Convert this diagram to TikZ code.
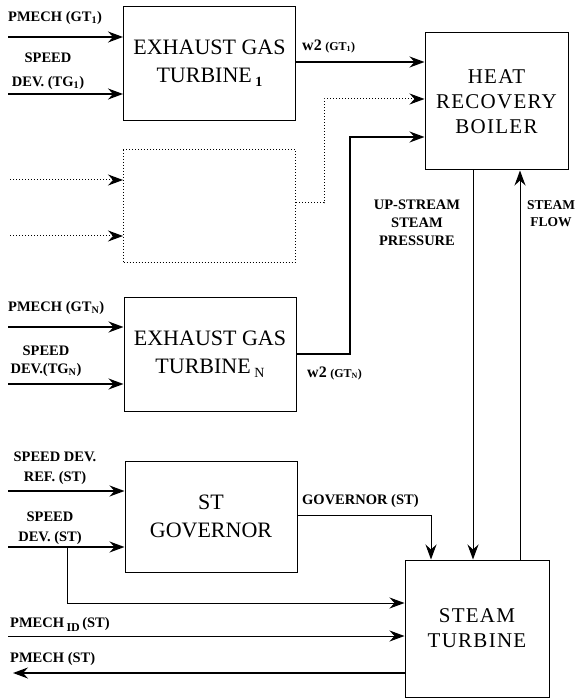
\documentclass[tikz,border=0pt]{standalone}
\usepackage{fontspec}
\setmainfont{Liberation Serif}
\usetikzlibrary{arrows.meta}

\begin{document}
\begin{tikzpicture}[x=1pt,y=-1pt,
    blk/.style={draw,line width=1pt,minimum width=172pt,minimum height=114pt,
      align=center,font=\fontsize{22}{28}\selectfont},
    wide/.style={font=\fontsize{21}{25}\selectfont\addfontfeature{LetterSpace=6}},
    lbl/.style={font=\fontsize{14.5}{18}\selectfont\bfseries,inner sep=0pt,align=center},
    sig/.style={line width=1.6pt,-{Stealth[length=15pt,width=11pt,inset=5pt]}},
    fb/.style={line width=1pt,-{Stealth[length=15pt,width=11pt,inset=5pt]}},
    dotsig/.style={line width=1pt,dotted,-{Stealth[length=15pt,width=11pt,inset=5pt]}}]
  \useasboundingbox (0,0) rectangle (579,700);

  % blocks
  \node[blk] (gt1) at (209.5,63.5) {EXHAUST GAS\\TURBINE\,\raisebox{-4pt}{\fontsize{14}{14}\selectfont\bfseries 1}};
  \node[blk,dotted,minimum height=112pt] (gtx) at (209.5,206) {};
  \node[blk] (gtn) at (210,354) {EXHAUST GAS\\TURBINE\,\raisebox{-4pt}{\fontsize{14}{14}\selectfont N}};
  \node[blk,minimum height=111pt] (gov) at (211,516.5) {ST\\GOVERNOR};
  \node[blk,wide,minimum width=143pt,minimum height=137pt] (hrb) at (496.5,101.5) {HEAT\\RECOVERY\\BOILER};
  \node[blk,wide,minimum width=144pt,minimum height=137pt] (st) at (477,628.5) {STEAM\\TURBINE};

  % free ends
  \coordinate (a1) at (8,37);
  \coordinate (a2) at (8,94);
  \coordinate (d1) at (10,180);
  \coordinate (d2) at (10,236);
  \coordinate (n1) at (8,327);
  \coordinate (n2) at (8,384);
  \coordinate (s1) at (8,491);
  \coordinate (s2) at (8,547);
  \coordinate (br) at (67,547);
  \coordinate (bk) at (67,603);
  \coordinate (p1) at (8,636);
  \coordinate (p2) at (13,673);

  % labels
  \node[lbl,anchor=west] (l1) at (8,18) {PMECH (GT\textsubscript{1})};
  \node[lbl] (l2) at (48,71) {SPEED\\[6pt]DEV. (TG\textsubscript{1})};
  \node[lbl,anchor=west] (l3) at (8,308) {PMECH (GT\textsubscript{N})};
  \node[lbl] (l4) at (46,361) {SPEED\\DEV.(TG\textsubscript{N})};
  \node[lbl] (l5) at (55,468) {SPEED DEV.\\[2pt]REF. (ST)};
  \node[lbl] (l6) at (50,528) {SPEED\\[2pt]DEV. (ST)};
  \node[lbl,anchor=west] (l7) at (10,624) {PMECH\,\raisebox{-4pt}{\fontsize{12}{12}\selectfont ID}\,(ST)};
  \node[lbl,anchor=west] (l8) at (10,659) {PMECH (ST)};
  \node[lbl,anchor=west] (l9) at (302,46) {{\fontsize{16}{16}\selectfont w2} {\fontsize{12}{12}\selectfont(GT\textsubscript{1})}};
  \node[lbl,anchor=west] (l10) at (307,373) {{\fontsize{16}{16}\selectfont w2} {\fontsize{12}{12}\selectfont(GT\textsubscript{N})}};
  \node[lbl] (l11) at (417,223) {UP-STREAM\\STEAM\\PRESSURE};
  \node[lbl,font=\fontsize{13.5}{17}\selectfont\bfseries] (l12) at (551,214) {STEAM\\FLOW};
  \node[lbl,anchor=west] (l13) at (302,501) {GOVERNOR (ST)};

  % connectors
  \draw[sig] (a1) -- (a1 -| gt1.west);
  \draw[sig] (a2) -- (a2 -| gt1.west);
  \draw[dotsig] (d1) -- (d1 -| gtx.west);
  \draw[dotsig] (d2) -- (d2 -| gtx.west);
  \draw[sig] (n1) -- (n1 -| gtn.west);
  \draw[sig] (n2) -- (n2 -| gtn.west);
  \draw[sig] (s1) -- (s1 -| gov.west);
  \draw[sig] (s2) -- (s2 -| gov.west);
  \draw[fb] (br) -- (bk) -- (bk -| st.west);
  \draw[fb] (p1) -- (p1 -| st.west);
  \draw[sig] (st.west |- p2) -- (p2);
  \draw[sig] (gt1.east |- 0,62) -- (hrb.west |- 0,62);
  \draw[dotsig] (gtx.east |- 0,203) -| (324,99) -- (hrb.west |- 0,99);
  \draw[sig] (gtn.east |- 0,354) -| (350,137) -- (hrb.west |- 0,137);
  \draw[fb] (gov.east |- 0,515) -| (st.north -| 431,0);
  \draw[fb] (hrb.south -| 473,0) -- (st.north -| 473,0);
  \draw[fb] (st.north -| 520,0) -- (hrb.south -| 520,0);
\end{tikzpicture}
\end{document}
